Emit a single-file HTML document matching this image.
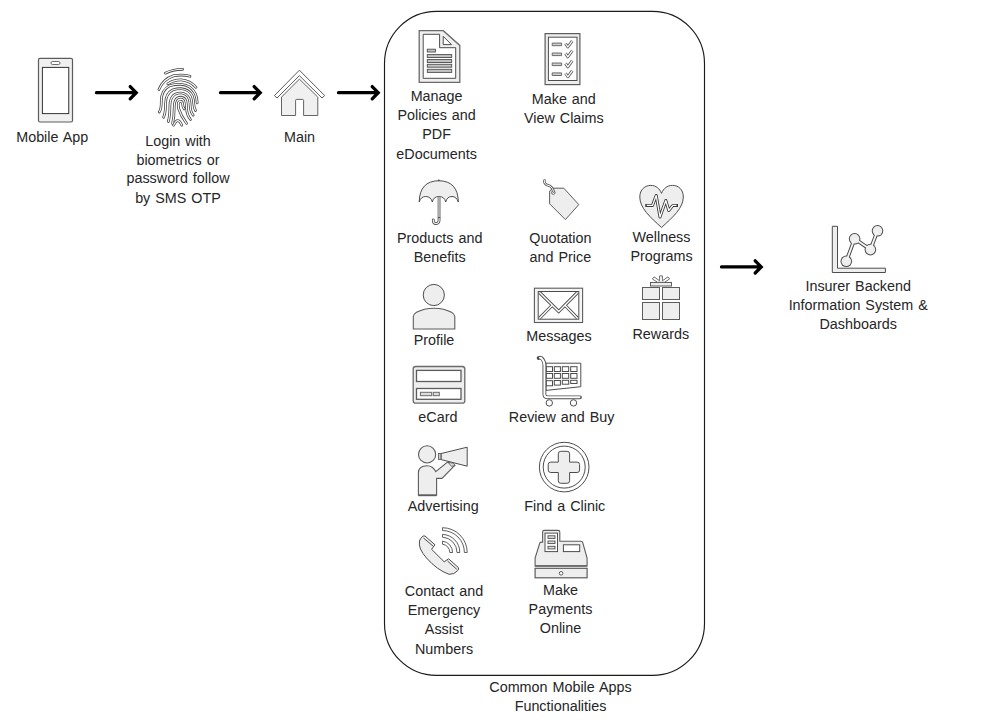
<!DOCTYPE html>
<html><head><meta charset="utf-8">
<style>
html,body{margin:0;padding:0;background:#fff;width:1008px;height:720px;overflow:hidden}
svg{position:absolute;left:0;top:0;display:block}
text{font-family:"Liberation Sans",sans-serif;font-size:14.35px;word-spacing:1px;fill:#262626;text-anchor:middle}
</style></head><body>
<svg width="1008" height="720" viewBox="0 0 1008 720">
<!-- big rounded box -->
<rect x="384.5" y="11.4" width="320" height="664" rx="52" ry="52" fill="none" stroke="#1a1a1a" stroke-width="1.15"/>

<!-- arrows -->
<g fill="none" stroke="#000" stroke-width="3.3" stroke-linecap="round" stroke-linejoin="miter">
<path d="M96.5,92.7 H135.5 M130.2,86.6 L136.2,92.7 L130.2,98.8"/>
<path d="M220.5,92.7 H259.5 M254.2,86.6 L260.2,92.7 L254.2,98.8"/>
<path d="M338.5,92.7 H377.5 M372.2,86.6 L378.2,92.7 L372.2,98.8"/>
<path d="M721.5,266.9 H760.5 M755.2,260.8 L761.2,266.9 L755.2,273"/>
</g>

<!-- mobile phone -->
<rect x="38.5" y="58.3" width="34" height="63.7" rx="1.5" fill="#f0f0f0" stroke="#5c5c5c" stroke-width="1.2"/>
<rect x="42.4" y="67.4" width="26.35" height="46.2" fill="#fff" stroke="#333" stroke-width="1"/>
<rect x="51" y="61.5" width="9" height="3" rx="1.5" fill="#fff" stroke="#5c5c5c" stroke-width="0.9"/>

<!-- house -->
<path d="M299.4,70.2 L324.7,95.6 L322,98 L299.4,75.7 L277,98 L274.4,95.6 Z" fill="#fff" stroke="#5c5c5c" stroke-width="1"/>
<path d="M281.5,115.5 L281.5,97.1 L299.4,79.1 L317.8,97.1 L317.8,115.5 L303.6,115.5 L303.6,100.4 Q303.6,99.4 302.6,99.4 L296.6,99.4 Q295.6,99.4 295.6,100.4 L295.6,115.5 Z" fill="#f0f0f0" stroke="#5c5c5c" stroke-width="0.95"/>

<!-- fingerprint -->
<g fill="none" stroke-linecap="round" stroke-linejoin="round">
<g stroke="#484848" stroke-width="2.7">
<path id="fp0" d="M165.3,73.2 Q172,69.6 182.7,69.3"/>
<path id="fp1" d="M158.9,89.6 Q163,79 174,75.6 Q183,74.2 190,76.3"/>
<path id="fp2" d="M167.8,83.8 Q174,79.8 181,79.9 Q190,80.5 196,87.3"/>
<path id="fp3" d="M159.2,112 Q161.4,109.5 161.3,101 Q161.2,90 170,85.6 Q175,84.2 181,84.3 Q191,85 195.5,94 Q197.2,98 197.2,103"/>
<path id="fp4" d="M163.6,117.3 Q165.6,113 165.6,103 Q165.7,93.5 173,89.8 Q177,88.6 181,88.7 Q189,89.2 192.3,96 Q193.8,100 193.8,104 Q194,108 195.5,110.5"/>
<path id="fp5" d="M168.3,121.5 Q169.9,116 169.9,106 Q169.9,97.5 175,94.2 Q178,92.9 181,93 Q187,93.4 189.2,99 Q190.2,102 190.2,106 Q190.5,112 193.2,115.2"/>
<path id="fp6" d="M172.6,123.5 Q174.2,117 174.2,108 Q174.2,100 177.5,98 Q179.2,97.1 181,97.2 Q184.5,97.5 185.8,101 Q186.5,103.5 186.5,108 Q186.8,115 190.5,119.5"/>
<path id="fp7" d="M186.5,123.3 Q181,116 178.6,108.5 Q178,104.5 178.5,102.5 Q179.5,101.2 181,101.4 Q182.5,101.6 182.6,104 Q182.8,107 184.2,109"/>
<path id="fp8" d="M173.6,125.2 Q176,120.6 177.6,120.6 Q179.8,120.6 181.8,125.2"/>
</g>
<g stroke="#fff" stroke-width="1.1">
<use href="#fp0"/><use href="#fp1"/><use href="#fp2"/><use href="#fp3"/><use href="#fp4"/><use href="#fp5"/><use href="#fp6"/><use href="#fp7"/><use href="#fp8"/>
</g>
</g>

<!-- document icon -->
<path d="M419.2,30.7 L443.3,30.7 L459.8,45.4 L459.8,82.3 L419.2,82.3 Z" fill="#efefef" stroke="#6a6a6a" stroke-width="1.3"/>
<path d="M423.2,34.3 L439.6,34.3 L439.6,47.7 L455.7,47.7 L455.7,78.3 L423.2,78.3 Z" fill="#fff" stroke="#4d4d4d" stroke-width="1"/>
<path d="M443.2,36.3 L443.2,44.6 L451.5,44.6 Z" fill="#fff" stroke="#4d4d4d" stroke-width="1"/>
<g fill="#c4c4c4" stroke="#4d4d4d" stroke-width="0.9">
<rect x="427.3" y="49.2" width="8.1" height="2.8"/>
<rect x="427.3" y="54.6" width="24.4" height="2.9"/>
<rect x="427.3" y="59.6" width="24.4" height="2.9"/>
<rect x="427.3" y="64.3" width="24.4" height="2.9"/>
<rect x="427.3" y="69.3" width="24.4" height="3.1"/>
</g>

<!-- checklist -->
<rect x="545.1" y="33.6" width="34.8" height="51" fill="#eee" stroke="#5c5c5c" stroke-width="1.2"/>
<rect x="548.4" y="37.2" width="28.6" height="43.3" fill="#fff" stroke="#4d4d4d" stroke-width="1"/>
<g fill="none" stroke-linejoin="round">
<g stroke="#5c5c5c" stroke-width="2.9">
<path id="ck" d="M565.5,43.5 L567.8,47 L572.3,40.8 M565.5,53.4 L567.8,56.9 L572.3,50.7 M565.5,63.4 L567.8,66.9 L572.3,60.7 M565.5,73.3 L567.8,76.8 L572.3,70.6"/>
</g>
<use href="#ck" stroke="#fff" stroke-width="1.2"/>
<g fill="#d0d0d0" stroke="#5c5c5c" stroke-width="0.9">
<rect x="552.2" y="43.1" width="9.4" height="2.6"/><rect x="552.2" y="53" width="9.4" height="2.6"/><rect x="552.2" y="63" width="9.4" height="2.6"/><rect x="552.2" y="72.9" width="9.4" height="2.6"/>
</g>
</g>

<!-- umbrella -->
<path d="M419.2,202 Q419.6,181 438.8,180.7 Q458,181 458.3,202 Q456.5,196.5 452,196.5 Q447,196.5 445.7,202 Q444.5,196.5 439,196.5 Q433.5,196.5 432.3,202 Q431,196.5 425.5,196.5 Q421,196.5 419.2,202 Z" fill="#eee" stroke="#4d4d4d" stroke-width="1"/>
<rect x="437.3" y="196.8" width="3.6" height="21.5" fill="#aaa"/>
<path d="M438.8,179.6 V181.2" stroke="#4d4d4d" stroke-width="1.3"/>
<g fill="none" stroke-linecap="round">
<g stroke="#4d4d4d" stroke-width="2.8"><path id="uh" d="M439.1,218.5 Q439.5,223.5 436,223.5 Q433,223.5 433.3,219.8"/></g>
<use href="#uh" stroke="#fff" stroke-width="1.1"/>
</g>

<!-- tag -->
<path d="M549.6,203.8 L549.6,191 L553,188.2 L563.8,188.2 L578.8,204.6 L565.4,219.6 Z" fill="#eee" stroke="#5c5c5c" stroke-width="1"/>
<circle cx="553.3" cy="192.6" r="1.8" fill="#fff" stroke="#5c5c5c" stroke-width="0.9"/>
<g fill="none" stroke-linecap="round" stroke-linejoin="round">
<g stroke="#5c5c5c" stroke-width="2.6"><path id="ts" d="M553.5,191.5 Q553,188 550,186 Q546,185 545,183.5 Q544,182 544.5,180.5"/></g>
<use href="#ts" stroke="#fff" stroke-width="1"/>
</g>

<!-- heart -->
<path d="M661.5,227.5 C650,217 639.8,208 639.8,197 C639.8,189.5 645,185.4 650.8,185.4 C656,185.4 659.5,188.5 661.5,193.3 C663.5,188.5 667,185.4 672.5,185.4 C678.5,185.4 683.3,189.5 683.3,197 C683.3,208 673,217 661.5,227.5 Z" fill="#eee" stroke="#4d4d4d" stroke-width="1"/>
<g fill="none" stroke-linejoin="round" stroke-linecap="butt">
<g stroke="#3a3a3a" stroke-width="3" stroke-linecap="square"><path id="pl" d="M646.8,205.4 H652.5 L656.2,195.5 L660,217 L665.8,200.5 L668.8,210.5 L672.9,205.4 H676.5"/></g>
<use href="#pl" stroke="#fff" stroke-width="1.3"/>
</g>

<!-- profile -->
<circle cx="433.8" cy="295" r="10.6" fill="#eee" stroke="#4d4d4d" stroke-width="1"/>
<path d="M413.3,329 L413.3,316.5 Q413.3,314.5 416,312.6 Q424,308.3 434,308.3 Q444,308.3 452,312.6 Q454.8,314.5 454.8,316.5 L454.8,329 Z" fill="#eee" stroke="#5c5c5c" stroke-width="1.1"/>

<!-- envelope -->
<rect x="534.4" y="288.2" width="48.2" height="34.3" fill="#f5f5f5" stroke="#5c5c5c" stroke-width="1.1"/>
<rect x="538.2" y="291.5" width="40.6" height="27.7" fill="#fff" stroke="#4d4d4d" stroke-width="1"/>
<g fill="none" stroke-linejoin="miter">
<g stroke="#4d4d4d" stroke-width="3.2"><path id="ev" d="M539.5,292.5 L558.7,311.5 L577.5,292.5 M539.5,318.2 L552,305.5 M577.5,318.2 L565.2,305.5"/></g>
<use href="#ev" stroke="#fff" stroke-width="1.4"/>
</g>

<!-- gift -->
<g fill="#eee" stroke="#5c5c5c" stroke-width="1">
<rect x="642.5" y="287.5" width="17" height="12"/>
<rect x="662.5" y="287.5" width="17" height="12"/>
<rect x="642.5" y="302.5" width="17" height="17"/>
<rect x="662.5" y="302.5" width="17" height="17"/>
<rect x="650.5" y="282.5" width="21" height="3.5"/>
</g>
<path d="M657.5,282.3 L652.4,279 L654.1,276.9 L659.6,280.8 L659.6,275.9 L662.4,275.9 L662.4,280.8 L667.9,276.9 L669.6,279 L664.5,282.3 Z" fill="#fff" stroke="#5c5c5c" stroke-width="0.9" stroke-linejoin="round"/>

<!-- ecard -->
<rect x="413.2" y="366.5" width="51.6" height="36.7" rx="2.5" fill="#eee" stroke="#6a6a6a" stroke-width="1.3"/>
<rect x="416.5" y="370.4" width="44.5" height="11.1" fill="#fff" stroke="#5c5c5c" stroke-width="1.3"/>
<rect x="416.5" y="388.5" width="44.5" height="10.8" fill="#fff" stroke="#5c5c5c" stroke-width="1.3"/>
<rect x="420.4" y="392.3" width="11.3" height="3.4" fill="#ddd" stroke="#6a6a6a" stroke-width="1"/>
<rect x="433.3" y="392.3" width="6" height="3.4" fill="#ddd" stroke="#6a6a6a" stroke-width="1"/>

<!-- cart -->
<path d="M546,363.2 L580.8,363.2 L580.8,386.7 L546,390.4 Z" fill="#fff" stroke="#4d4d4d" stroke-width="1"/>
<g fill="#fff" stroke="#4d4d4d" stroke-width="1">
<rect x="546.3" y="366.7" width="6.2" height="4.8"/><rect x="554.3" y="366.7" width="6.1" height="4.8"/><rect x="562.3" y="366.7" width="6.4" height="4.8"/><rect x="570.7" y="366.7" width="6.3" height="4.8"/>
<rect x="546.3" y="373.5" width="6.2" height="4.8"/><rect x="554.3" y="373.5" width="6.1" height="4.8"/><rect x="562.3" y="373.5" width="6.4" height="4.8"/><rect x="570.7" y="373.5" width="6.3" height="4.8"/>
<rect x="546.3" y="380.7" width="6.2" height="5.1"/><rect x="554.3" y="380.5" width="6.1" height="4.6"/><rect x="562.3" y="380.3" width="6.4" height="3.9"/><rect x="570.7" y="380.3" width="6.3" height="3.2"/>
</g>
<g fill="none" stroke-linejoin="round">
<path d="M538.6,358 Q541.2,356.8 542.8,359.5 Q544.4,362 544.4,365 L544.4,394.3 Q544.4,397.3 547.4,397.3 L580,397.3" stroke="#4d4d4d" stroke-width="3.8" stroke-linecap="round"/>
<path d="M539.2,357.9 Q541.2,357.2 542.6,359.7 Q544.4,362 544.4,365 L544.4,394.3 Q544.4,397.3 547.4,397.3 L580.3,397.3" stroke="#fff" stroke-width="2" stroke-linecap="butt"/>
</g>
<circle cx="549.3" cy="402.9" r="3.2" fill="#fff" stroke="#4d4d4d" stroke-width="1"/>
<circle cx="573.5" cy="402.9" r="3.2" fill="#fff" stroke="#4d4d4d" stroke-width="1"/>

<!-- megaphone person -->
<circle cx="427.1" cy="454.4" r="8.6" fill="#eee" stroke="#5c5c5c" stroke-width="1.1"/>
<path d="M418.4,495.3 L418.4,473 Q418.4,465.7 427,465.7 Q433,465.7 435.7,471.6 L447.5,462.1 L454.5,465.7 L442,478.4 L436.6,478.4 L436.6,495.3 Z" fill="#eee" stroke="#5c5c5c" stroke-width="1.1"/>
<path d="M418.4,495.3 H436.6" stroke="#5c5c5c" stroke-width="1.8"/>
<rect x="438.4" y="453.5" width="2.8" height="5.9" fill="#ccc" stroke="#5c5c5c" stroke-width="0.9"/>
<path d="M441.2,453.5 L467.2,447.2 L467.2,466.2 L441.2,459.6 Z" fill="#eee" stroke="#4d4d4d" stroke-width="1"/>
<path d="M448,462.3 L453.5,463.2 L455.2,465.5 L451.5,466.3 Z" fill="#ddd" stroke="#5c5c5c" stroke-width="0.9"/>

<!-- clinic -->
<circle cx="564.2" cy="467.1" r="24.8" fill="#fff" stroke="#4d4d4d" stroke-width="1"/>
<circle cx="564.2" cy="467.1" r="21" fill="#fff" stroke="#4d4d4d" stroke-width="1"/>
<path d="M560.8,451.3 H567.1 Q569.6,451.3 569.6,453.8 V462.1 H577.1 Q579.6,462.1 579.6,464.6 V470 Q579.6,472.5 577.1,472.5 H569.6 V480.8 Q569.6,483.3 567.1,483.3 H560.8 Q558.3,483.3 558.3,480.8 V472.5 H550.7 Q548.2,472.5 548.2,470 V464.6 Q548.2,462.1 550.7,462.1 H558.3 V453.8 Q558.3,451.3 560.8,451.3 Z" fill="#eee" stroke="#4d4d4d" stroke-width="1"/>

<!-- phone handset -->
<path d="M421.8,537.2 Q423,535.3 425,536 L435,544.8 L431.6,549.3 L444.2,561.8 L448.6,558.8 L458.4,567.6 Q459,569 457.8,570.5 Q454,574.8 449,574.3 Q437,570 426.5,558 Q418,548.5 419.5,541 Q420.2,538.8 421.8,537.2 Z" fill="#eee" stroke="#4d4d4d" stroke-width="1"/>
<path d="M423.5,538 L433.3,546.3 M447.5,561 L456.8,569.3" stroke="#4d4d4d" stroke-width="1" fill="none"/>
<g fill="#fff" stroke="#4d4d4d" stroke-width="0.9">
<path d="M442.5,541.2 A11.3,11.3 0 0 1 452.6,552.5 L449.8,552.5 A8.3,8.3 0 0 0 442.5,544.2 Z"/>
<path d="M442.5,534.4 A18,18 0 0 1 459.8,552.5 L457,552.5 A15.2,15.2 0 0 0 442.5,537.2 Z"/>
<path d="M442.5,527.7 A24.8,24.8 0 0 1 467.2,552.5 L464.4,552.5 A22,22 0 0 0 442.5,530.5 Z"/>
</g>

<!-- cash register -->
<path d="M535.1,565.9 L535.1,558 L539.5,544 Q539.7,542.1 541.5,542.1 L542.6,542.1 L542.6,532 Q542.6,530.4 544.3,530.4 L558.1,530.4 Q559.8,530.4 559.8,532 L559.8,541.2 L580.8,541.2 Q582.6,541.2 582.8,543 L587.1,558 L587.1,565.9 Z" fill="#eee" stroke="#5c5c5c" stroke-width="1.1"/>
<path d="M535.1,565.9 H587.1" stroke="#6a6a6a" stroke-width="1.6"/>
<rect x="535.1" y="568.3" width="52" height="9.5" fill="#eee" stroke="#5c5c5c" stroke-width="1.2"/>
<circle cx="561.1" cy="573.3" r="1.8" fill="#fff" stroke="#4d4d4d" stroke-width="0.9"/>
<rect x="545" y="533.1" width="12.5" height="18.5" fill="#fff" stroke="#4d4d4d" stroke-width="1"/>
<g fill="#ddd" stroke="#4d4d4d" stroke-width="0.9">
<rect x="548" y="535.8" width="7" height="2.6"/>
<rect x="548" y="541" width="7" height="2.6"/>
<rect x="548" y="546.3" width="7" height="2.6"/>
</g>
<rect x="563.4" y="544.8" width="16.3" height="6.8" fill="#fff" stroke="#4d4d4d" stroke-width="1"/>

<!-- chart -->
<path d="M832.3,226.3 L837.5,226.3 L837.5,268.2 L885.4,268.2 L885.4,272.5 L832.3,272.5 Z" fill="#eee" stroke="#4d4d4d" stroke-width="1"/>
<g fill="none" stroke-linejoin="round">
<path d="M846.3,261.3 L854.6,238.8 L870.4,249.6 L877.5,230.8" stroke="#4d4d4d" stroke-width="3.8"/>
</g>
<g fill="#4d4d4d">
<circle cx="846.3" cy="261.3" r="5.8"/><circle cx="854.6" cy="238.8" r="5.8"/><circle cx="870.4" cy="249.6" r="5.8"/><circle cx="877.5" cy="230.8" r="5.8"/>
</g>
<g fill="#eee">
<circle cx="846.3" cy="261.3" r="4.8"/><circle cx="854.6" cy="238.8" r="4.8"/><circle cx="870.4" cy="249.6" r="4.8"/><circle cx="877.5" cy="230.8" r="4.8"/>
</g>
<path d="M846.3,261.3 L854.6,238.8 L870.4,249.6 L877.5,230.8" fill="none" stroke="#f4f4f4" stroke-width="1.8" stroke-linejoin="round"/>

<!-- texts -->
<text x="52.2" y="141.8">Mobile App</text>
<text x="178" y="145.6">Login with</text>
<text x="178" y="164.5">biometrics or</text>
<text x="178" y="183.3">password follow</text>
<text x="178" y="202.7">by SMS OTP</text>
<text x="299.5" y="141.8">Main</text>

<text x="436.6" y="100.6">Manage</text>
<text x="436.6" y="119.7">Policies and</text>
<text x="436.6" y="138.8">PDF</text>
<text x="436.6" y="158.8">eDocuments</text>

<text x="563.8" y="104">Make and</text>
<text x="563.8" y="123.1">View Claims</text>

<text x="439.7" y="242.7">Products and</text>
<text x="439.7" y="261.8">Benefits</text>
<text x="560.4" y="242.8">Quotation</text>
<text x="560.4" y="261.8">and Price</text>
<text x="661.5" y="241.8">Wellness</text>
<text x="661.5" y="260.8">Programs</text>

<text x="434" y="344.7">Profile</text>
<text x="559" y="341.2">Messages</text>
<text x="660.8" y="338.6">Rewards</text>

<text x="437.9" y="421.7">eCard</text>
<text x="561.7" y="421.7">Review and Buy</text>

<text x="443.2" y="511.4">Advertising</text>
<text x="564.8" y="510.9">Find a Clinic</text>

<text x="444" y="595.6">Contact and</text>
<text x="444" y="614.7">Emergency</text>
<text x="444" y="633.8">Assist</text>
<text x="444" y="653.8">Numbers</text>

<text x="560.5" y="594.8">Make</text>
<text x="560.5" y="613.7">Payments</text>
<text x="560.5" y="632.6">Online</text>

<text x="560.5" y="692.1">Common Mobile Apps</text>
<text x="560.5" y="711.3">Functionalities</text>

<text x="858.2" y="291.2">Insurer Backend</text>
<text x="858.2" y="310.1">Information System &amp;</text>
<text x="858.2" y="329">Dashboards</text>
</svg>
</body></html>
